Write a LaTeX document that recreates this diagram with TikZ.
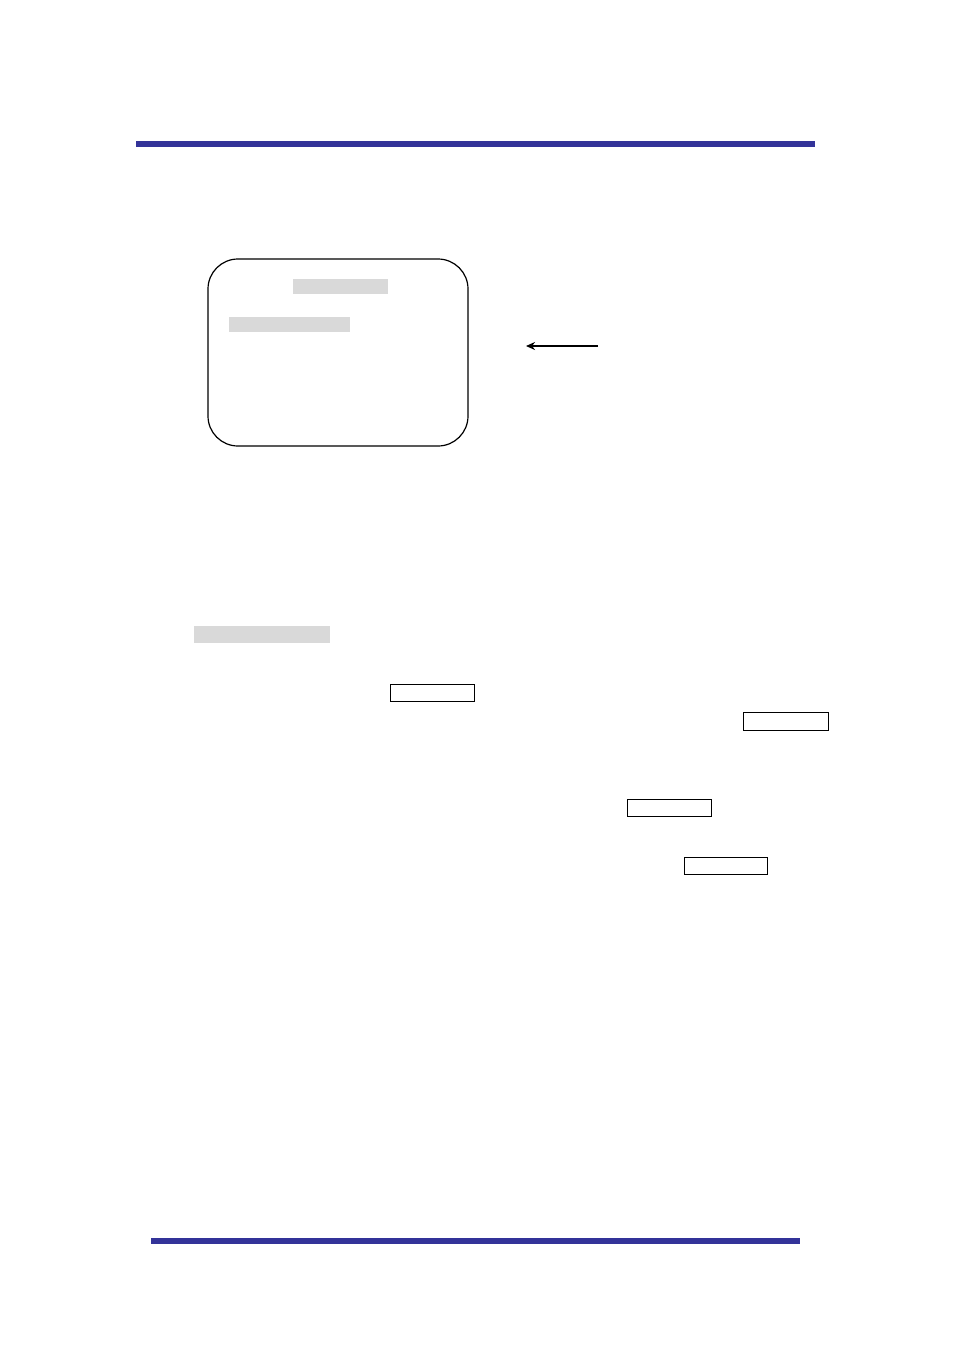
\documentclass[tikz,border=0pt]{standalone}
\usetikzlibrary{arrows.meta}
\definecolor{barblue}{HTML}{333399}
\definecolor{hl}{HTML}{D9D9D9}
\tikzset{
  bar/.style={fill=barblue, draw=none},
  hlbox/.style={fill=hl, draw=none},
  keybox/.style={draw=black, line width=0.9pt, fill=white},
  screen/.style={draw=black, line width=1.2pt, rounded corners=30pt},
}
\begin{document}
\begin{tikzpicture}[x=1pt,y=-1pt]
\useasboundingbox (0,0) rectangle (954,1350);
\fill[white] (0,0) rectangle (954,1350);
\fill[bar] (136,141) rectangle (815,147);
\fill[bar] (151,1238) rectangle (800,1244);
\draw[screen] (208,259) rectangle (468,446);
\fill[hlbox] (293,279) rectangle (388,294);
\fill[hlbox] (229,317) rectangle (350,332);
\coordinate (a1) at (598,346);
\coordinate (a2) at (526,346);
\draw[line width=2pt, -{Stealth[length=9pt,width=8pt]}] (a1) -- (a2);
\fill[hlbox] (194,626) rectangle (330,643);
\node[keybox, minimum width=84pt, minimum height=17pt, inner sep=0pt] (k1) at (432,692.5) {};
\node[keybox, minimum width=85pt, minimum height=18pt, inner sep=0pt] (k2) at (785.5,721) {};
\node[keybox, minimum width=84pt, minimum height=17pt, inner sep=0pt] (k3) at (669,807.5) {};
\node[keybox, minimum width=83pt, minimum height=17pt, inner sep=0pt] (k4) at (725.5,865.5) {};
\end{tikzpicture}
\end{document}
